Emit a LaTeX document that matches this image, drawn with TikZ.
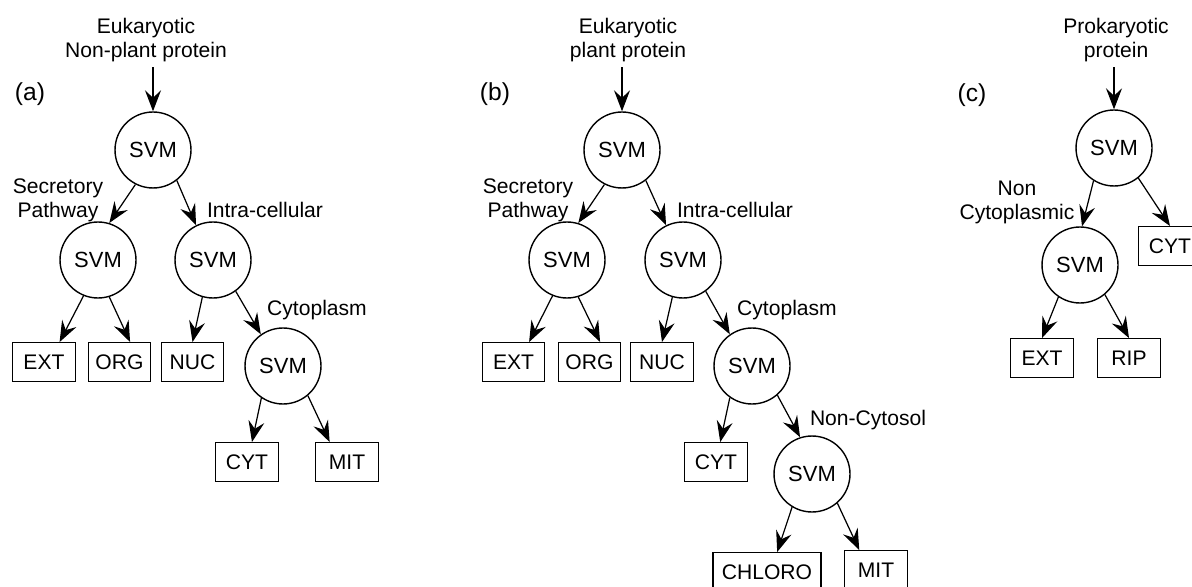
\documentclass[tikz,border=0pt]{standalone}
\usepackage{fontspec}
\setmainfont{Liberation Sans}
\usetikzlibrary{arrows.meta}
\tikzset{
  svm/.style={circle, draw, line width=0.8pt, minimum size=1.52cm, inner sep=0pt,
    font=\fontsize{12.5}{14}\selectfont},
  leaf/.style={rectangle, draw, line width=0.8pt, minimum width=1.25cm,
    minimum height=0.77cm, inner sep=2pt, font=\fontsize{12}{14}\selectfont},
  branch/.style={align=center, inner sep=0pt, font=\fontsize{12}{13.7}\selectfont},
  input/.style={branch, inner sep=3pt},
  panel/.style={inner sep=0pt, font=\fontsize{14}{16}\selectfont},
  arr/.style={line width=0.7pt, -{Stealth[length=4.2mm, width=3.2mm, inset=1.5mm]}}
}

\begin{document}
\begin{tikzpicture}[x=0.02cm, y=-0.02cm]
  \useasboundingbox (0,0) rectangle (1192,587);

  % (a) non-plant
  \node[input] (a-in) at (146,40) {Eukaryotic\\Non-plant protein};
  \node[panel] (a-tag) at (30,94) {(a)};
  \node[svm] (a-root) at (153,150) {SVM};
  \node[svm] (a-secr) at (98,260) {SVM};
  \node[svm] (a-intra) at (213,260) {SVM};
  \node[svm] (a-cyto) at (283,366) {SVM};
  \node[leaf] (a-ext) at (44,362) {EXT};
  \node[leaf] (a-org) at (119.5,362) {ORG};
  \node[leaf] (a-nuc) at (192.5,362) {NUC};
  \node[leaf] (a-cyt) at (247,462) {CYT};
  \node[leaf] (a-mit) at (347,462) {MIT};
  \node[branch] (a-lsecr) at (58,200) {Secretory\\Pathway};
  \node[branch] (a-lintra) at (265,210) {Intra-cellular};
  \node[branch] (a-lcyto) at (317,310) {Cytoplasm};
  \draw[arr] (a-in.south -| a-root) -- (a-root);
  \draw[arr] (a-root.243) -- (a-secr.73);
  \draw[arr] (a-root.308) -- (a-intra.116);
  \draw[arr] (a-secr.248) -- (a-ext.52);
  \draw[arr] (a-secr.287) -- (a-org.62);
  \draw[arr] (a-intra.254) -- (a-nuc.north);
  \draw[arr] (a-intra.306) -- (a-cyto.125);
  \draw[arr] (a-cyto.236) -- (a-cyt.76);
  \draw[arr] (a-cyto.310) -- (a-mit.131);

  % (b) plant
  \node[input] (b-in) at (628,40) {Eukaryotic\\plant protein};
  \node[panel] (b-tag) at (495,94) {(b)};
  \node[svm] (b-root) at (622,150) {SVM};
  \node[svm] (b-secr) at (567,260) {SVM};
  \node[svm] (b-intra) at (683,260) {SVM};
  \node[svm] (b-cyto) at (752,366) {SVM};
  \node[svm] (b-noncyt) at (812,474) {SVM};
  \node[leaf] (b-ext) at (513.5,362) {EXT};
  \node[leaf] (b-org) at (589.5,362) {ORG};
  \node[leaf] (b-nuc) at (662,362) {NUC};
  \node[leaf] (b-cyt) at (716,462) {CYT};
  \node[leaf, minimum width=2.16cm] (b-chloro) at (767,572) {CHLORO};
  \node[leaf] (b-mit) at (876,570) {MIT};
  \node[branch] (b-lsecr) at (528,200) {Secretory\\Pathway};
  \node[branch] (b-lintra) at (735,210) {Intra-cellular};
  \node[branch] (b-lcyto) at (787,310) {Cytoplasm};
  \node[branch] (b-lnoncyt) at (868,420) {Non-Cytosol};
  \draw[arr] (b-in.south -| b-root) -- (b-root);
  \draw[arr] (b-root.243) -- (b-secr.73);
  \draw[arr] (b-root.308) -- (b-intra.116);
  \draw[arr] (b-secr.248) -- (b-ext.52);
  \draw[arr] (b-secr.287) -- (b-org.62);
  \draw[arr] (b-intra.254) -- (b-nuc.north);
  \draw[arr] (b-intra.306) -- (b-cyto.125);
  \draw[arr] (b-cyto.235) -- (b-cyt.78);
  \draw[arr] (b-cyto.311) -- (b-noncyt.108);
  \draw[arr] (b-noncyt.239) -- (b-chloro.63);
  \draw[arr] (b-noncyt.311) -- (b-mit.130);

  % (c) prokaryotic
  \node[input] (c-in) at (1116,40) {Prokaryotic\\protein};
  \node[panel] (c-tag) at (972,95) {(c)};
  \node[svm] (c-root) at (1114,148) {SVM};
  \node[svm] (c-noncyt) at (1080,265) {SVM};
  \node[leaf] (c-cyt) at (1170,246) {CYT};
  \node[leaf] (c-ext) at (1042,358) {EXT};
  \node[leaf] (c-rip) at (1129,358) {RIP};
  \node[branch] (c-lnoncyt) at (1017,202) {Non\\Cytoplasmic};
  \draw[arr] (c-in.south -| c-root) -- (c-root);
  \draw[arr] (c-root.238) -- (c-noncyt.87);
  \draw[arr] (c-root.309) -- (c-cyt.north);
  \draw[arr] (c-noncyt.236) -- (c-ext.north);
  \draw[arr] (c-noncyt.310) -- (c-rip.north);
\end{tikzpicture}
\end{document}
